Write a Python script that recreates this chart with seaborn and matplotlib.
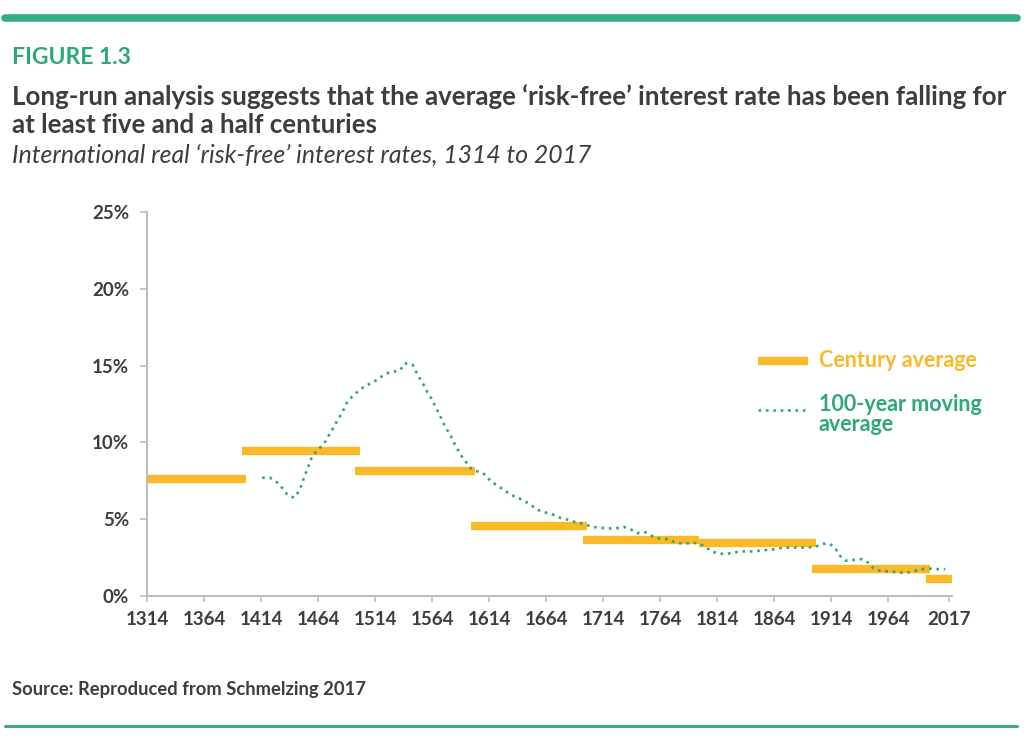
import matplotlib
matplotlib.use("Agg")
from matplotlib import pyplot as plt
import numpy as np
import pandas as pd
import seaborn as sns

# century averages: start year, end year, rate (%)
century_start = [1314, 1397, 1496, 1598, 1696, 1798, 1897, 1997]
century_end = [1401, 1501, 1602, 1700, 1798, 1901, 2001, 2020]
century_avg = [7.6, 9.45, 8.15, 4.55, 3.65, 3.42, 1.78, 1.12]

# 100-year moving average
ma_year = [1415, 1422, 1428, 1433, 1437, 1443, 1447, 1450, 1452, 1455, 1457, 1460,
           1465, 1470, 1473, 1477, 1480, 1484, 1487, 1490, 1495, 1500, 1506, 1512,
           1518, 1524, 1530, 1536, 1540, 1547, 1550, 1553, 1557, 1560, 1564, 1567,
           1570, 1573, 1576, 1580, 1583, 1586, 1590, 1594, 1598, 1604, 1611, 1615,
           1621, 1627, 1633, 1639, 1645, 1651, 1657, 1663, 1670, 1676, 1684, 1690,
           1697, 1704, 1711, 1718, 1725, 1732, 1738, 1744, 1751, 1757, 1763, 1770,
           1777, 1784, 1790, 1797, 1804, 1809, 1816, 1823, 1830, 1837, 1844, 1852,
           1858, 1865, 1872, 1879, 1886, 1892, 1900, 1907, 1913, 1918, 1922, 1927,
           1934, 1941, 1947, 1951, 1957, 1964, 1972, 1979, 1986, 1992, 2000, 2007, 2014]
ma_rate = [7.7, 7.7, 7.4, 7.0, 6.6, 6.4, 6.8, 7.3, 7.8, 8.3, 8.8, 9.2,
           9.6, 10.0, 10.4, 10.9, 11.3, 11.8, 12.2, 12.7, 13.05, 13.4, 13.7, 13.9,
           14.2, 14.5, 14.6, 14.7, 15.15, 15.05, 14.6, 14.2, 13.7, 13.25, 12.8, 12.3,
           11.9, 11.4, 10.95, 10.5, 10.0, 9.6, 9.1, 8.7, 8.3, 8.1, 7.9, 7.5,
           7.2, 6.9, 6.6, 6.4, 6.2, 5.9, 5.6, 5.45, 5.3, 5.1, 4.95, 4.8,
           4.7, 4.5, 4.45, 4.4, 4.4, 4.5, 4.35, 4.1, 4.15, 3.9, 3.75, 3.7,
           3.5, 3.4, 3.45, 3.45, 3.2, 2.9, 2.75, 2.75, 2.85, 2.9, 2.9, 2.95,
           3.0, 3.05, 3.15, 3.15, 3.15, 3.15, 3.2, 3.4, 3.4, 3.05, 2.6, 2.3,
           2.35, 2.4, 2.15, 1.8, 1.65, 1.6, 1.55, 1.5, 1.6, 1.75, 1.78, 1.75, 1.75]

xtick_years = [1314, 1364, 1414, 1464, 1514, 1564, 1614, 1664, 1714, 1764, 1814, 1864, 1914, 1964, 2017]
ytick_vals = [0, 5, 10, 15, 20, 25]

ORANGE = "#FBB829"
GREEN = "#2FA877"
DARK = "#3d3d3d"
GREY = "#bdbdbd"
DOTS = (0, (1, 1.8))

sns.set_theme(style="white")
plt.rcParams['font.family'] = ['Lato', 'DejaVu Sans']

fig = plt.figure(figsize=(10.26, 7.5), dpi=100)
ax = fig.add_axes([147/1026, 1-596/750, (952-147)/1026, (596-212)/750])

ax.hlines(century_avg, century_start, century_end, color=ORANGE, linewidth=6)

df = pd.DataFrame({'year': ma_year, 'rate': ma_rate})
sns.lineplot(data=df, x='year', y='rate', ax=ax, color=GREEN, linewidth=1.9, linestyle=DOTS)

ax.set_xlim(1314, 2020)
ax.set_ylim(0, 25)
ax.set_xticks(xtick_years)
ax.set_xticklabels([str(y) for y in xtick_years])
ax.set_yticks(ytick_vals)
ax.set_yticklabels([f"{v}%" for v in ytick_vals])
ax.set_xlabel('')
ax.set_ylabel('')

for s in ['top', 'right']:
    ax.spines[s].set_visible(False)
for s in ['left', 'bottom']:
    ax.spines[s].set_color(GREY)
    ax.spines[s].set_linewidth(1.5)

ax.tick_params(axis='x', which='both', bottom=True, length=4.5, width=1.2, color=GREY,
               pad=6, labelsize=13.5, labelcolor=DARK)
ax.tick_params(axis='y', which='both', left=True, length=5, width=1.2, color=GREY,
               pad=8, labelsize=13.5, labelcolor=DARK)
for lab in ax.get_xticklabels() + ax.get_yticklabels():
    lab.set_fontweight('bold')

# legend drawn by hand
ax.plot([1850, 1894], [15.3, 15.3], color=ORANGE, linewidth=6, solid_capstyle='butt', clip_on=False)
ax.text(1903, 15.3, 'Century average', color=ORANGE, fontsize=15.5, fontweight='bold', va='center')
ax.plot([1850, 1894], [12.1, 12.1], color=GREEN, linewidth=1.9, linestyle=DOTS, clip_on=False)
ax.text(1903, 11.8, '100-year moving\naverage', color=GREEN, fontsize=15.5, fontweight='bold',
        va='center', linespacing=0.92)

# header and footer
fig.add_artist(plt.Line2D([5/1026, 1017/1026], [1-18/750, 1-18/750], color="#36AE80", linewidth=5.5))
fig.add_artist(plt.Line2D([5/1026, 1017/1026], [1-726/750, 1-726/750], color="#36AE80", linewidth=2.2))
fig.text(12/1026, 1-58/750, 'FIGURE 1.3', color="#2FA877", fontsize=16.5, fontweight='bold', va='center')
fig.text(12/1026, 1-97/750, 'Long-run analysis suggests that the average \u2018risk-free\u2019 interest rate has been falling for',
         color=DARK, fontsize=18.6, fontweight='bold', va='center')
fig.text(12/1026, 1-125/750, 'at least five and a half centuries', color=DARK, fontsize=18.6, fontweight='bold', va='center')
fig.text(12/1026, 1-155/750, 'International real \u2018risk-free\u2019 interest rates, 1314 to 2017',
         color=DARK, fontsize=17.8, style='italic', va='center')
fig.text(12/1026, 1-690/750, 'Source: Reproduced from Schmelzing 2017', color=DARK, fontsize=13.2,
         fontweight='bold', va='center')

fig.savefig('out.png', dpi=100)
